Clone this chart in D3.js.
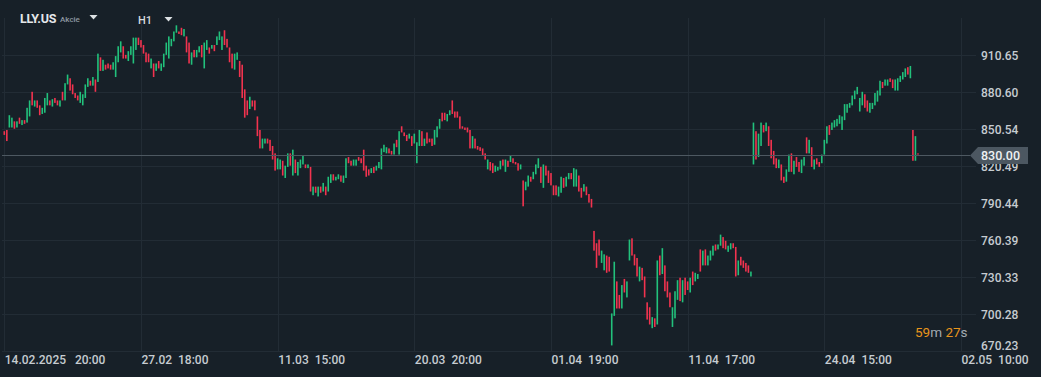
<!DOCTYPE html>
<html><head><meta charset="utf-8">
<script src="https://cdn.jsdelivr.net/npm/d3@7"></script>
<style>
html,body{margin:0;padding:0;background:#172028;overflow:hidden;}
svg{display:block;font-family:Roboto,"Noto Sans",sans-serif;}
</style></head><body>
<svg id="c" width="1041" height="377"></svg>
<script>
// ---- data ----
const OPEN = [
849,850,852,852,857,852,860,854,858,856,
861,881,869,874,870,863,864,870,874,869,
876,874,869,881,874,887,892,887,880,878,
872,870,876,885,890,886,891,889,909,898,
903,904,903,899,893,905,913,918,911,906,
911,904,915,925,923,919,913,912,900,904,
898,906,898,901,911,908,918,922,929,930,
933,926,926,921,903,915,909,913,919,900,
915,917,916,919,919,923,915,931,924,917,
912,899,907,906,903,883,874,867,874,874,
861,850,835,839,843,842,837,831,818,818,
825,811,820,831,813,826,813,819,822,822,
819,820,797,804,796,804,800,804,800,807,
814,809,810,813,807,811,828,825,821,821,
828,827,834,821,818,815,820,817,819,818,
832,831,835,833,830,842,830,853,848,846,
843,845,839,823,837,849,837,848,843,843,
838,844,851,864,864,857,862,874,865,865,
861,853,852,852,850,835,843,837,836,835,
831,818,824,823,816,817,818,826,816,825,
824,827,824,823,818,809,801,804,812,810,
814,819,820,803,821,817,815,805,805,796,
799,811,804,810,815,804,804,813,803,800,
804,798,794,768,758,761,742,736,748,747,
675,699,727,716,705,729,714,744,762,749,
746,727,738,731,710,706,689,697,692,748,
733,740,727,718,690,697,712,730,710,730,
727,718,735,727,729,753,740,753,740,744,
748,757,753,756,763,760,751,753,758,755,
732,747,744,742,740,731,822,849,828,837,
854,849,853,842,833,827,819,822,812,808,
816,831,814,828,824,815,821,844,831,836,
818,827,824,823,830,839,854,850,852,853,
855,850,858,864,868,870,875,879,865,870,
879,874,864,867,870,873,878,889,886,886,
892,891,882,882,889,891,893,901,892,850,
825,831
];
const CLOSE = [
846,841,862,860,851,857,855,858,855,868,
874,870,874,868,862,868,876,880,870,875,
872,870,874,874,888,895,882,879,876,874,
881,879,887,892,886,893,881,912,898,907,
899,900,899,905,910,918,922,908,908,914,
918,925,925,919,917,912,905,905,908,893,
904,900,904,912,921,926,924,930,935,928,
927,932,913,904,913,909,915,918,909,921,
923,912,919,914,926,930,926,919,917,905,
900,912,913,893,876,860,862,877,869,866,
845,835,843,843,839,833,826,817,827,826,
813,821,831,821,834,815,824,826,829,819,
822,800,804,799,804,799,807,797,812,814,
809,812,814,808,813,827,823,821,826,826,
825,823,817,812,813,819,815,821,824,835,
838,836,831,830,839,836,849,848,845,841,
847,837,847,840,850,837,843,839,840,837,
850,853,859,857,858,863,866,863,860,860,
851,851,850,848,835,845,835,834,833,829,
826,826,817,815,821,820,825,821,826,820,
829,823,822,817,822,788,808,813,808,816,
822,827,807,822,813,807,805,797,797,804,
812,803,812,815,810,819,818,800,795,806,
797,791,787,752,738,748,752,749,734,735,
701,743,705,705,724,718,727,761,748,740,
731,739,728,714,696,692,698,690,744,732,
754,719,714,706,706,719,728,711,728,716,
720,730,724,734,733,735,752,740,748,752,
756,752,757,765,754,753,756,758,754,731,
744,740,738,735,734,735,856,826,847,856,
848,856,837,827,822,819,826,809,807,818,
830,816,825,820,816,826,828,831,842,820,
826,822,820,830,842,853,846,856,858,859,
862,861,871,871,872,878,882,885,876,881,
868,865,872,872,880,882,890,884,891,891,
889,884,891,892,894,897,900,895,902,825,
845,830
];
const TICK_INDEX = [0, 54, 108, 162, 216, 270, 324, 378];
const TICK_LABELS = ["14.02.2025   20:00", "27.02  18:00", "11.03  15:00", "20.03  20:00",
                     "01.04  19:00", "11.04  17:00", "24.04  15:00", "02.05  10:00"];
const PRICE_TICKS = [670.23, 700.28, 730.33, 760.39, 790.44, 820.49, 850.54, 880.60, 910.65];
const LAST_PRICE = 830.00;
const SYMBOL = "LLY.US", ASSET_TYPE = "Akcie", TIMEFRAME = "H1";
const COUNTDOWN = [["59", true], ["m", false], [" 27", true], ["s", false]];

// ---- drawing ----
const W = 1041, H = 377;
const BG = "#172028", GRID = "#222c35", UP = "#22c17c", DOWN = "#f2334f", LABEL = "#c6ccd1";
const svg = d3.select("#c");
svg.append("rect").attr("width", W).attr("height", H).attr("fill", BG);

const x = d3.scaleLinear().domain([0, 378]).range([4.3, 961]);
const y = d3.scaleLinear().domain([670.23, 910.65]).range([351.3, 55.3]);

const grid = svg.append("g").attr("stroke", GRID).attr("stroke-width", 1);
grid.selectAll("line.h").data(PRICE_TICKS).join("line").attr("class", "h")
  .attr("x1", 2).attr("x2", 976)
  .attr("y1", d => Math.round(y(d)) + 0.5).attr("y2", d => Math.round(y(d)) + 0.5);
grid.selectAll("line.v").data(TICK_INDEX).join("line").attr("class", "v")
  .attr("x1", d => Math.round(x(d)) + 0.5).attr("x2", d => Math.round(x(d)) + 0.5)
  .attr("y1", 18).attr("y2", 351.5);

// candles
const data = OPEN.map((o, i) => ({ i, o, c: CLOSE[i] }));
svg.append("g").selectAll("rect").data(data).join("rect")
  .attr("x", d => x(d.i) - 0.8)
  .attr("width", 1.6)
  .attr("y", d => y(Math.max(d.o, d.c)))
  .attr("height", d => Math.max(1, y(Math.min(d.o, d.c)) - y(Math.max(d.o, d.c))))
  .attr("fill", d => d.c >= d.o ? UP : DOWN);

// x axis
const xa = svg.append("g").attr("transform", "translate(0,351)")
  .call(d3.axisBottom(x).tickValues(TICK_INDEX).tickFormat((d, i) => TICK_LABELS[i]).tickSize(0).tickPadding(4));
xa.select(".domain").remove();
xa.selectAll("text").attr("text-anchor", "start").attr("fill", LABEL)
  .style("font-size", "12px").style("font-weight", "500").style("white-space", "pre")
  .style("font-family", "Roboto, sans-serif");

// y axis
const ya = svg.append("g").attr("transform", "translate(981,0)")
  .call(d3.axisRight(y).tickValues(PRICE_TICKS).tickFormat(d3.format(".2f")).tickSize(0).tickPadding(0));
ya.select(".domain").remove();
ya.selectAll("text").attr("fill", LABEL).attr("x", 0)
  .style("font-size", "12px").style("font-weight", "500").style("font-family", "Roboto, sans-serif")
  .attr("dy", d => d === PRICE_TICKS[0] ? "-0.12em" : "0.35em");

// last price line + tag
const ly = Math.round(y(LAST_PRICE)) + 0.5;
svg.append("line").attr("x1", 2).attr("x2", 970).attr("y1", ly).attr("y2", ly)
  .attr("stroke", "#4d5861").attr("stroke-width", 1);
svg.append("path")
  .attr("d", `M970,${ly} L978,${ly - 8.5} L1028,${ly - 8.5} L1028,${ly + 8.5} L978,${ly + 8.5} Z`)
  .attr("fill", "#4c5761");
svg.append("text").attr("x", 981).attr("y", ly).attr("dy", "0.36em")
  .attr("fill", "#eef1f3").style("font-size", "12.5px").style("font-weight", "500")
  .text(d3.format(".2f")(LAST_PRICE));

// countdown
const cd = svg.append("text").attr("x", 915).attr("y", 337).style("font-size", "13.5px");
COUNTDOWN.forEach(([t, num]) => cd.append("tspan").attr("fill", num ? "#e8951c" : "#a3abb2")
  .style("white-space", "pre").text(t));

// header
svg.append("text").attr("x", 20).attr("y", 23).attr("fill", "#e4e7ea")
  .style("font-size", "12.5px").style("font-weight", "700").style("letter-spacing", "-0.3px").text(SYMBOL);
svg.append("text").attr("x", 60).attr("y", 22).attr("fill", "#8d97a0")
  .style("font-size", "8px").style("font-weight", "500").text(ASSET_TYPE);
svg.append("path").attr("d", "M89.5,15 L97.5,15 L93.5,19.5 Z").attr("fill", "#dde1e4");
svg.append("text").attr("x", 138).attr("y", 24).attr("fill", "#d6dadd")
  .style("font-size", "11px").style("font-weight", "500").text(TIMEFRAME);
svg.append("path").attr("d", "M164.5,17 L172.5,17 L168.5,21.5 Z").attr("fill", "#dde1e4");
</script>
</body></html>
